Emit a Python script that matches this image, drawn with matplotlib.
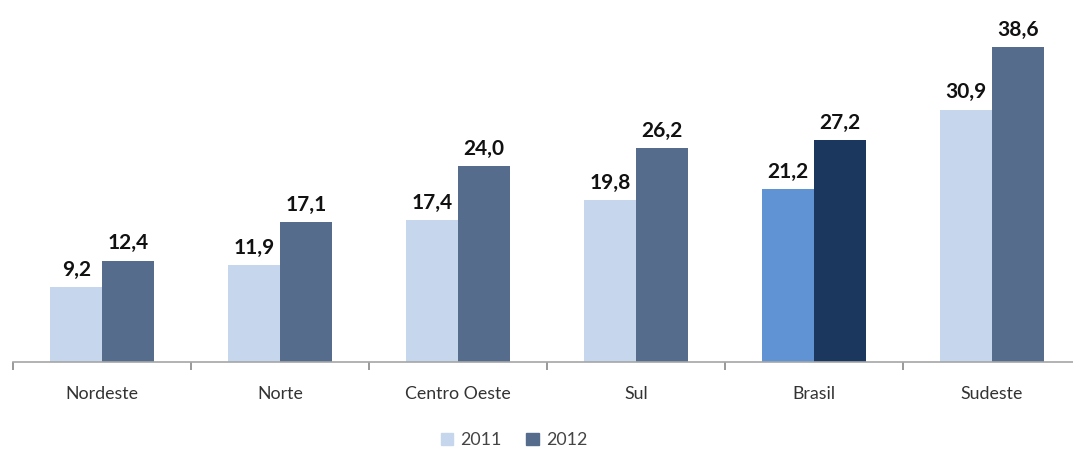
import numpy as np
import matplotlib.pyplot as plt

# Data
regions = ['Nordeste', 'Norte', 'Centro Oeste', 'Sul', 'Brasil', 'Sudeste']
values_2011 = [9.2, 11.9, 17.4, 19.8, 21.2, 30.9]
values_2012 = [12.4, 17.1, 24.0, 26.2, 27.2, 38.6]
years = ['2011', '2012']

light = '#c6d7ed'
dark = '#556c8d'
brasil_light = '#5f93d3'
brasil_dark = '#1c375e'

plt.rcParams['font.family'] = ['Lato', 'DejaVu Sans']

fig = plt.figure(figsize=(10.73, 4.55), dpi=100)
# axes run a little past the right edge, like the cropped original
ax = fig.add_axes([13 / 1073, 93 / 455, 1068 / 1073, 351 / 455])

x = np.arange(len(regions))
w = 0.29
c11 = [brasil_light if r == 'Brasil' else light for r in regions]
c12 = [brasil_dark if r == 'Brasil' else dark for r in regions]
b1 = ax.bar(x - w / 2, values_2011, w, color=c11, label=years[0])
b2 = ax.bar(x + w / 2, values_2012, w, color=c12, label=years[1])

for bars, vals in ((b1, values_2011), (b2, values_2012)):
    for b, v in zip(bars, vals):
        ax.text(b.get_x() + b.get_width() / 2, v + 0.9, f'{v:.1f}'.replace('.', ','),
                ha='center', va='bottom', fontsize=15, fontweight='bold', color='#111111')

ax.set_xlim(-0.5, len(regions) - 0.5)
ax.set_ylim(0, 43)
ax.set_yticks([])
for s in ['top', 'right', 'left']:
    ax.spines[s].set_visible(False)
ax.spines['bottom'].set_color('#a6a6a6')
ax.spines['bottom'].set_linewidth(1.2)

ax.set_xticks(x)
ax.set_xticklabels(regions, fontsize=12.8, color='#333333')
ax.tick_params(axis='x', which='major', length=0, pad=17)
ax.set_xticks(np.arange(-0.5, len(regions), 1), minor=True)
ax.tick_params(axis='x', which='minor', length=6, color='#888888', width=1.2)

leg = fig.legend(handles=[b1, b2], labels=years, loc='center', bbox_to_anchor=(514 / 1073, 1 - 440 / 455),
                 ncol=2, frameon=False, fontsize=12.8, handlelength=0.7, handleheight=0.7,
                 handletextpad=0.4, columnspacing=1.4)
for t in leg.get_texts():
    t.set_color('#444444')
# legend swatches use the regular colours, not the Brasil highlight
leg.legend_handles[0].set_color(light)
leg.legend_handles[1].set_color(dark)

fig.savefig('out.png', dpi=100)
